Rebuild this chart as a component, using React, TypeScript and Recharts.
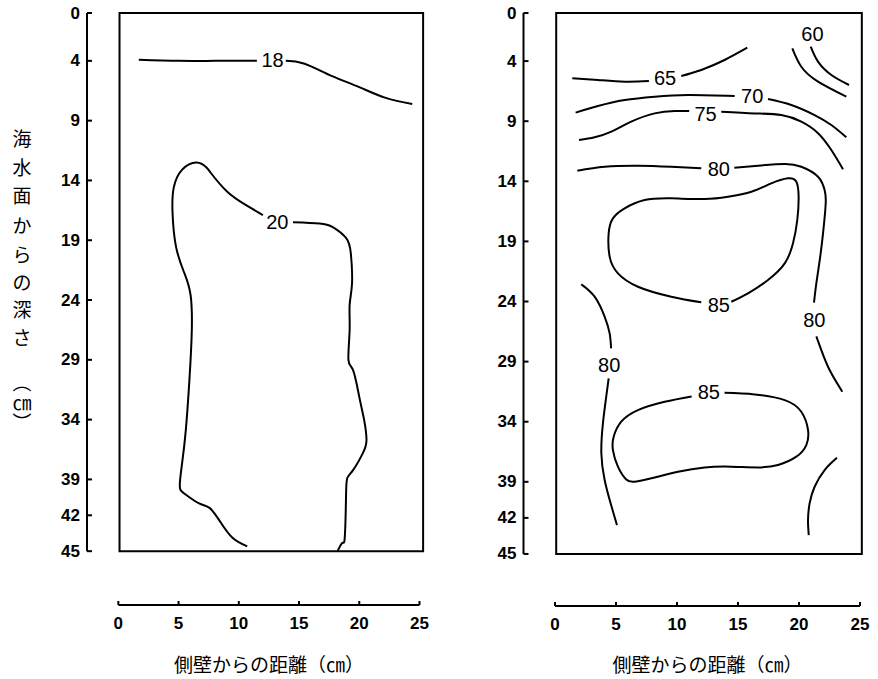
import {
  ComposedChart,
  Line,
  Scatter,
  XAxis,
  YAxis,
  ReferenceLine,
  ReferenceArea,
  Label,
} from "recharts";

// depth ticks (cm from the sea surface) and distance ticks (cm from the side wall)
const depthTicks = [0, 4, 9, 14, 19, 24, 29, 34, 39, 42, 45];
const distTicks = [0, 5, 10, 15, 20, 25];

// left panel contours (x: distance, d: depth; d null = label gap)
const left18 = [
  { x: 1.7, d: 3.9 }, { x: 5, d: 4.0 }, { x: 8, d: 4.0 }, { x: 11.5, d: 4.0 },
  { x: 12.8, d: null },
  { x: 13.9, d: 4.0 }, { x: 14.9, d: 4.1 }, { x: 16.1, d: 4.5 }, { x: 17.8, d: 5.3 },
  { x: 20.0, d: 6.2 }, { x: 22.2, d: 7.1 }, { x: 24.4, d: 7.6 },
];
const left20 = [
  { x: 10.7, d: 44.6 }, { x: 9.5, d: 43.9 }, { x: 8.5, d: 42.6 }, { x: 7.6, d: 41.4 },
  { x: 6.7, d: 41.0 }, { x: 5.5, d: 40.2 }, { x: 5.1, d: 39.5 }, { x: 5.3, d: 37.6 },
  { x: 5.6, d: 34.9 }, { x: 5.9, d: 30.7 }, { x: 6.1, d: 26.5 }, { x: 6.0, d: 23.6 },
  { x: 5.5, d: 21.8 }, { x: 4.8, d: 19.6 }, { x: 4.5, d: 16.7 }, { x: 4.6, d: 14.6 },
  { x: 5.3, d: 13.1 }, { x: 6.5, d: 12.5 }, { x: 7.3, d: 12.9 }, { x: 7.7, d: 13.4 },
  { x: 9.0, d: 14.9 }, { x: 10.5, d: 16.0 }, { x: 12.0, d: 16.9 },
  { x: 13.2, d: null },
  { x: 14.5, d: 17.5 }, { x: 16.7, d: 17.6 }, { x: 17.8, d: 17.9 }, { x: 18.9, d: 18.8 },
  { x: 19.3, d: 20.1 }, { x: 19.4, d: 22.6 }, { x: 19.2, d: 24.4 }, { x: 19.2, d: 26.5 },
  { x: 19.1, d: 29.0 }, { x: 19.5, d: 29.9 }, { x: 20.0, d: 32.1 }, { x: 20.4, d: 34.0 },
  { x: 20.6, d: 35.7 }, { x: 20.3, d: 36.8 }, { x: 19.5, d: 38.2 }, { x: 19.0, d: 38.9 },
  { x: 18.9, d: 40.5 }, { x: 18.8, d: 43.8 }, { x: 18.6, d: 44.3 }, { x: 18.2, d: 45.0 },
];
const leftLabels = [
  { x: 12.8, d: 3.97, t: "18" },
  { x: 13.2, d: 17.5, t: "20" },
];

// right panel contours
const right60a = [
  { x: 20.96, d: 2.8 }, { x: 21.56, d: 4.05 }, { x: 22.65, d: 5.16 }, { x: 24.1, d: 5.99 },
];
const right60b = [
  { x: 19.45, d: 2.94 }, { x: 20.19, d: 4.47 }, { x: 21.56, d: 5.71 }, { x: 23.88, d: 6.96 },
];
const right65 = [
  { x: 1.42, d: 5.43 }, { x: 3.52, d: 5.57 }, { x: 5.71, d: 5.71 }, { x: 7.7, d: 5.66 },
  { x: 9.0, d: null },
  { x: 10.35, d: 5.24 }, { x: 11.99, d: 4.74 }, { x: 13.9, d: 3.91 }, { x: 15.76, d: 2.89 },
];
const right70 = [
  { x: 1.69, d: 8.29 }, { x: 3.52, d: 7.74 }, { x: 5.71, d: 7.24 }, { x: 8.17, d: 6.96 },
  { x: 10.9, d: 6.82 }, { x: 14.73, d: 6.9 },
  { x: 16.1, d: null },
  { x: 17.46, d: 7.15 }, { x: 19.37, d: 7.65 }, { x: 21.28, d: 8.49 }, { x: 22.65, d: 9.32 },
  { x: 23.88, d: 10.34 },
];
const right75 = [
  { x: 1.97, d: 10.57 }, { x: 3.25, d: 10.34 }, { x: 4.62, d: 9.87 }, { x: 6.25, d: 9.04 },
  { x: 8.17, d: 8.35 }, { x: 9.81, d: 8.15 }, { x: 11.0, d: 8.15 },
  { x: 12.4, d: null },
  { x: 13.63, d: 8.21 }, { x: 16.37, d: 8.35 }, { x: 18.55, d: 8.49 }, { x: 20.19, d: 9.04 },
  { x: 21.56, d: 10.0 }, { x: 22.65, d: 11.4 }, { x: 23.61, d: 13.0 },
];
const right80top = [
  { x: 1.83, d: 13.12 }, { x: 4.07, d: 12.79 }, { x: 6.8, d: 12.7 }, { x: 9.53, d: 12.79 },
  { x: 11.99, d: 12.92 },
  { x: 13.4, d: null },
  { x: 14.7, d: 12.87 }, { x: 16.64, d: 12.7 }, { x: 18.83, d: 12.56 }, { x: 20.19, d: 12.79 },
  { x: 21.56, d: 13.62 }, { x: 22.1, d: 14.73 }, { x: 22.19, d: 15.83 }, { x: 21.97, d: 18.33 },
  { x: 21.7, d: 20.55 }, { x: 21.42, d: 22.49 }, { x: 21.23, d: 24.1 },
  { x: 21.25, d: null },
  { x: 21.42, d: 26.9 }, { x: 21.83, d: 28.04 }, { x: 22.51, d: 29.7 }, { x: 23.55, d: 31.5 },
];
const right85top = [
  { x: 14.45, d: 24.02 }, { x: 15.82, d: 23.32 }, { x: 17.46, d: 22.21 }, { x: 18.83, d: 20.83 },
  { x: 19.51, d: 19.16 }, { x: 19.86, d: 17.22 }, { x: 19.97, d: 15.28 }, { x: 19.78, d: 14.03 },
  { x: 19.1, d: 13.75 }, { x: 17.73, d: 14.17 }, { x: 16.1, d: 14.87 }, { x: 14.18, d: 15.28 },
  { x: 12.27, d: 15.47 }, { x: 9.53, d: 15.42 }, { x: 7.35, d: 15.56 }, { x: 5.71, d: 16.25 },
  { x: 4.75, d: 17.08 }, { x: 4.4, d: 18.33 }, { x: 4.48, d: 20.27 }, { x: 5.16, d: 21.66 },
  { x: 6.8, d: 22.77 }, { x: 9.53, d: 23.6 }, { x: 11.99, d: 24.07 },
];
const right80left = [
  { x: 2.16, d: 22.57 }, { x: 3.25, d: 23.6 }, { x: 4.07, d: 25.26 }, { x: 4.48, d: 26.65 },
  { x: 4.6, d: 27.9 },
  { x: 4.45, d: null },
  { x: 4.4, d: 30.4 }, { x: 4.2, d: 31.92 }, { x: 3.93, d: 34.13 }, { x: 3.8, d: 36.63 },
  { x: 4.07, d: 38.85 }, { x: 4.56, d: 40.79 }, { x: 5.08, d: 42.6 },
];
const right85low = [
  { x: 13.9, d: 31.6 }, { x: 16.37, d: 31.73 }, { x: 18.83, d: 32.2 }, { x: 20.19, d: 33.17 },
  { x: 20.74, d: 34.69 }, { x: 20.6, d: 35.94 }, { x: 19.78, d: 36.91 }, { x: 18.28, d: 37.6 },
  { x: 16.64, d: 37.8 }, { x: 14.45, d: 37.74 }, { x: 12.27, d: 37.8 }, { x: 10.08, d: 38.16 },
  { x: 7.9, d: 38.71 }, { x: 6.53, d: 38.99 }, { x: 5.84, d: 38.8 }, { x: 5.16, d: 37.74 },
  { x: 4.75, d: 36.36 }, { x: 4.81, d: 35.25 }, { x: 5.43, d: 34.0 }, { x: 6.8, d: 33.03 },
  { x: 8.99, d: 32.34 }, { x: 11.2, d: 31.9 },
];
const right85corner = [
  { x: 23.11, d: 37.0 }, { x: 22.1, d: 38.02 }, { x: 21.28, d: 39.41 }, { x: 20.87, d: 40.79 },
  { x: 20.74, d: 42.18 }, { x: 20.8, d: 43.43 },
];
const rightLabels = [
  { x: 21.1, d: 1.73, t: "60" },
  { x: 9.02, d: 5.39, t: "65" },
  { x: 16.16, d: 6.92, t: "70" },
  { x: 12.34, d: 8.39, t: "75" },
  { x: 13.43, d: 12.98, t: "80" },
  { x: 13.43, d: 24.33, t: "85" },
  { x: 21.26, d: 25.54, t: "80" },
  { x: 4.44, d: 29.26, t: "80" },
  { x: 12.61, d: 31.53, t: "85" },
];

// vertical y title: characters stacked; brackets rotated to their vertical form
const yTitle = ["海", "水", "面", "か", "ら", "の", "深", "さ", "（", "㎝", "）"];
const yTitleRotate = [false, false, false, false, false, false, false, false, true, false, true];
const yTitlePos = [137, 166, 194, 224, 253, 281, 308, 336, 383, 401, 422];
const xTitle = "側壁からの距離（㎝）";

const latin = "'Liberation Sans', Arial, sans-serif";
const cjk = "'Noto Sans CJK JP', sans-serif";

const YTick = (props: any) => {
  const { x, y, payload } = props;
  return (
    <g>
      <line x1={x} y1={y} x2={x + 5} y2={y} stroke="#000" strokeWidth={2} />
      <text x={x - 7} y={y} textAnchor="end" dominantBaseline="central" fontSize={17} fontWeight="bold" fontFamily={latin} fill="#000">
        {payload.value}
      </text>
    </g>
  );
};

const XTick = (props: any) => {
  const { x, y, payload } = props;
  return (
    <g>
      <line x1={x} y1={y} x2={x} y2={y - 4} stroke="#000" strokeWidth={2} />
      <text x={x} y={y + 18} textAnchor="middle" dominantBaseline="central" fontSize={17} fontWeight="bold" fontFamily={latin} fill="#000">
        {payload.value}
      </text>
    </g>
  );
};

const ContourLabel = (props: any) => {
  const { cx, cy, payload } = props;
  return (
    <text x={cx} y={cy} textAnchor="middle" dominantBaseline="central" fontSize={20} fontFamily={latin} fill="#000">
      {payload.t}
    </text>
  );
};

interface PanelProps {
  width: number;
  axisWidth: number;
  marginRight: number;
  xAxisHeight: number;
  xMin: number;
  yMax: number;
  boxRight: number;
  titleX: number;
  contours: { x: number; d: number | null }[][];
  labels: { x: number; d: number; t: string }[];
  showYTitle?: boolean;
}

function ContourPanel(p: PanelProps) {
  return (
    <ComposedChart width={p.width} height={679} margin={{ top: 13, right: p.marginRight, left: 0, bottom: 0 }}>
      <XAxis
        type="number"
        dataKey="x"
        domain={[p.xMin, 25]}
        ticks={distTicks}
        allowDataOverflow
        axisLine={false}
        tickLine={false}
        tickSize={0}
        tickMargin={0}
        height={p.xAxisHeight}
        tick={<XTick />}
        interval={0}
      >
        <Label
          content={() => (
            <text x={p.titleX} y={663} textAnchor="middle" dominantBaseline="central" fontSize={19} fontFamily={cjk} fill="#000">
              {xTitle}
            </text>
          )}
        />
      </XAxis>
      <YAxis
        type="number"
        dataKey="d"
        reversed
        domain={[0, p.yMax]}
        ticks={depthTicks}
        allowDataOverflow
        axisLine={false}
        tickLine={false}
        tickSize={0}
        tickMargin={0}
        width={p.axisWidth}
        tick={<YTick />}
        interval={0}
      >
        {p.showYTitle && (
          <Label
            content={() => (
              <g fontSize={19} fontFamily={cjk} fill="#000">
                {yTitle.map((ch, i) => (
                  <text
                    key={i}
                    x={22}
                    y={yTitlePos[i]}
                    textAnchor="middle"
                    dominantBaseline="central"
                    transform={yTitleRotate[i] ? `rotate(90 22 ${yTitlePos[i]})` : undefined}
                  >
                    {ch}
                  </text>
                ))}
              </g>
            )}
          />
        )}
      </YAxis>
      <ReferenceArea x1={0.1} x2={p.boxRight} y1={0} y2={45} fill="none" stroke="#000" strokeWidth={2} ifOverflow="visible" />
      <ReferenceLine segment={[{ x: p.xMin, y: 0 }, { x: p.xMin, y: 45 }]} stroke="#000" strokeWidth={2} ifOverflow="visible" />
      <ReferenceLine segment={[{ x: 0, y: p.yMax }, { x: 25, y: p.yMax }]} stroke="#000" strokeWidth={2} ifOverflow="visible" />
      {p.contours.map((c, i) => (
        <Line
          key={i}
          data={c}
          dataKey="d"
          type="natural"
          stroke="#000"
          strokeWidth={2}
          dot={false}
          activeDot={false}
          isAnimationActive={false}
        />
      ))}
      <Scatter data={p.labels} dataKey="d" shape={<ContourLabel />} isAnimationActive={false} />
    </ComposedChart>
  );
}

export default function App() {
  return (
    <div style={{ position: "absolute", left: 0, top: 0, width: 878, height: 679, background: "#fff", display: "flex" }}>
      <ContourPanel
        width={440}
        axisWidth={87}
        marginRight={20.5}
        xAxisHeight={74}
        xMin={-2.6}
        yMax={49.5}
        boxRight={25.3}
        titleX={269}
        contours={[left18, left20]}
        labels={leftLabels}
        showYTitle
      />
      <ContourPanel
        width={438}
        axisWidth={83.5}
        marginRight={18}
        xAxisHeight={73}
        xMin={-2.58}
        yMax={49.33}
        boxRight={25.15}
        titleX={267.5}
        contours={[right60a, right60b, right65, right70, right75, right80top, right85top, right80left, right85low, right85corner]}
        labels={rightLabels}
      />
    </div>
  );
}
